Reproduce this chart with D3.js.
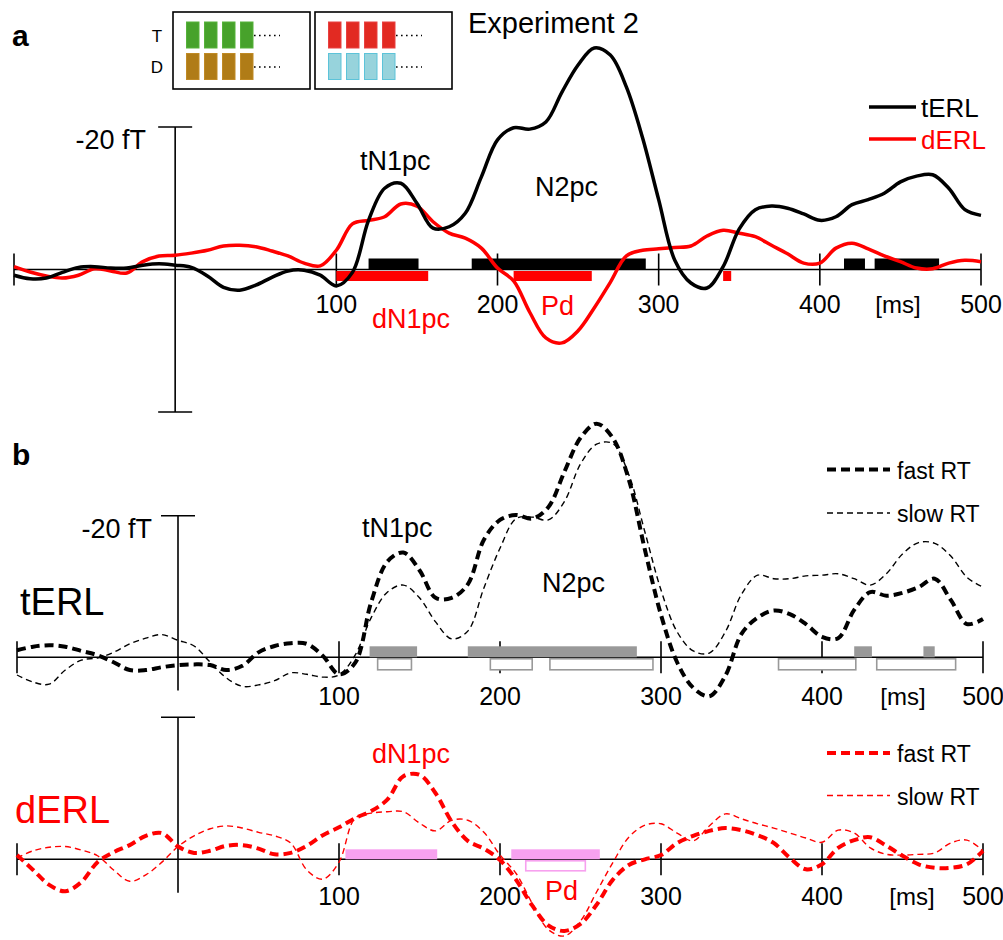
<!DOCTYPE html>
<html><head><meta charset="utf-8">
<script src="https://cdn.jsdelivr.net/npm/d3@7"></script>
<style>body{margin:0;background:#fff}svg{display:block}text{font-family:"Liberation Sans",Arial,sans-serif}</style>
</head><body>
<svg id="chart" width="1003" height="940"></svg>
<script>
// time axis (ms), sampled every 10 ms from -100 to 500
const times = d3.range(-100, 501, 10);
const xTickLabels = ["100", "200", "300", "400", "[ms]", "500"];
const xTickValues = [100, 200, 300, 400, 500];

// Panel a: grand averages (fT, negative = up)
const aTERL = [0.8,1.3,1.2,0.4,-0.3,-0.4,-0.2,-0.2,-0.6,-0.8,-0.6,-0.3,0.9,2.5,2.9,2.2,1.1,0.2,0.1,0.8,2.3,0.4,-6.9,-11.4,-12.1,-9.3,-5.8,-6.0,-7.9,-13.0,-18.2,-19.9,-19.7,-20.7,-24.9,-28.7,-31.1,-30.1,-25.6,-18.5,-9.8,-1.3,1.9,2.6,-0.4,-5.7,-8.4,-8.9,-8.6,-7.8,-6.9,-7.4,-9.1,-9.8,-10.7,-12.3,-13.1,-13.3,-11.4,-8.4,-7.6];
const aDERL = [-0.4,0.35,0.9,1.2,0.8,-0.1,0.2,0.5,-1.1,-1.9,-2.0,-2.3,-2.7,-3.3,-3.4,-3.2,-2.6,-1.9,-0.9,-0.5,-2.7,-6.4,-6.9,-7.4,-9.2,-8.9,-6.7,-5.1,-4.4,-3.0,-0.2,1.6,6.0,9.6,10.3,8.6,5.4,1.8,-1.9,-2.7,-2.9,-3.1,-3.3,-4.7,-5.5,-5.1,-4.6,-3.4,-2.2,-0.9,-0.9,-3.0,-3.7,-2.9,-1.9,-1.1,-0.2,-0.1,-0.9,-1.3,-1.1];

// Panel b: fast vs slow RT
const bTERLfast = [-1.0,-1.5,-1.7,-1.5,-0.9,-0.3,0.7,1.8,1.8,1.4,1.1,1.0,1.1,1.8,1.2,-0.7,-1.6,-2.0,-1.9,-0.2,2.4,0.8,-7.8,-13.5,-14.8,-12.3,-8.4,-8.4,-10.3,-16.6,-19.4,-20.1,-19.6,-21.2,-26.2,-31.0,-33.0,-31.0,-25.1,-15.2,-6.0,0.7,4.3,5.5,2.6,-3.3,-5.6,-6.6,-6.1,-4.7,-2.9,-2.7,-6.7,-9.2,-8.7,-9.1,-9.9,-11.1,-8.1,-4.7,-5.4];
const bTERLslow = [2.5,3.5,3.8,1.8,0.4,0.1,-0.7,-1.9,-2.7,-3.2,-2.4,-1.6,0.7,2.9,4.1,3.9,3.3,2.2,2.4,2.8,2.5,-0.3,-5.6,-9.2,-10.2,-8.4,-5.0,-2.6,-3.7,-9.8,-15.4,-19.6,-19.8,-19.4,-22.0,-27.3,-30.1,-30.2,-25.8,-17.7,-9.5,-3.6,-0.9,-0.6,-3.6,-8.9,-11.6,-11.1,-11.1,-11.5,-11.6,-11.8,-11.1,-10.2,-11.8,-14.6,-16.2,-16.1,-14.3,-11.3,-9.9];
const bDERLfast = [-0.6,1.5,3.6,4.5,3.2,0.4,-1.0,-2.0,-3.3,-3.7,-1.8,-0.9,-1.2,-1.9,-2.0,-1.5,-0.7,-0.9,-1.9,-3.4,-4.5,-5.8,-6.8,-8.4,-11.7,-11.9,-9.3,-5.3,-2.6,-1.5,0.1,2.9,6.5,9.3,10.1,9.1,6.4,2.9,0.8,0.0,-0.6,-2.3,-3.3,-4.0,-4.4,-4.1,-3.4,-2.3,-0.2,1.4,0.7,-1.6,-2.7,-3.1,-1.9,-0.5,0.7,1.2,1.2,0.7,-1.2];
const bDERLslow = [-0.2,-1.2,-1.7,-1.8,-1.3,-0.5,1.5,3.1,2.2,0.4,-1.8,-3.3,-4.3,-4.7,-4.4,-3.8,-3.3,-2.3,1.5,2.8,0.4,-5.8,-6.5,-6.7,-6.7,-5.1,-4.0,-5.5,-5.5,-3.8,-0.6,2.0,6.2,9.9,10.8,8.7,4.6,0.5,-3.1,-4.8,-5.0,-3.7,-2.6,-4.7,-6.4,-5.7,-5.0,-4.4,-3.7,-3.0,-2.4,-4.1,-3.7,-1.6,-0.7,-0.6,-0.7,-0.9,-2.3,-2.7,-1.2];

// significant intervals (ms)
const aSigT = [[120,151],[184,292],[415,428],[434,474]];
const aSigD = [[100,157],[210,258.5],[340,345]];
const bSigTfast = [[119,148.5],[180,285],[420,431],[463,470]];
const bSigTslow = [[124,145],[194,220],[231,295],[373,421],[434,483]];
const bSigDfast = [[104,161],[207,262]];
const bSigDslow = [[216,253]];

// inset stimulus legend
const insetRows = ["T", "D"];
const insetColors = [["#47a22b","#b07c17"],["#e22a22","#97d3dc"]];
const insetStrokes = [["#56b23a","#c08a25"],["#e84040","#5cc3d9"]];

const svg = d3.select("#chart");
const RED = "#ff0000";

function panel(opts){
  const x = d3.scaleLinear().domain([-100,500]).range(opts.xr);
  const y = d3.scaleLinear().domain([-20,20]).range(opts.yr);
  const g = svg.append("g");
  const y0 = y(0);
  g.append("line").attr("x1",x(-100)).attr("x2",x(500)).attr("y1",y0).attr("y2",y0)
    .attr("stroke","#000").attr("stroke-width",1.6);
  [-100].concat(xTickValues).forEach(t=>{
    g.append("line").attr("x1",x(t)).attr("x2",x(t)).attr("y1",y0-16).attr("y2",y0+16)
      .attr("stroke","#000").attr("stroke-width",1.6);
  });
  xTickValues.forEach((t,i)=>{
    g.append("text").attr("x",x(t)).attr("y",opts.tickY).attr("text-anchor","middle")
      .attr("font-size",25).text(xTickLabels[i===4?5:i]);
  });
  g.append("text").attr("x",opts.msX).attr("y",opts.tickY).attr("text-anchor","middle")
    .attr("font-size",24).text(xTickLabels[4]);
  g.append("line").attr("x1",x(0)).attr("x2",x(0)).attr("y1",y(-20)).attr("y2",y(opts.vBottom))
    .attr("stroke","#000").attr("stroke-width",1.6);
  g.append("line").attr("x1",x(0)-17).attr("x2",x(0)+17).attr("y1",y(-20)).attr("y2",y(-20))
    .attr("stroke","#000").attr("stroke-width",1.6);
  if(opts.bottomCap){
    g.append("line").attr("x1",x(0)-17).attr("x2",x(0)+17).attr("y1",y(opts.vBottom)).attr("y2",y(opts.vBottom))
      .attr("stroke","#000").attr("stroke-width",1.6);
  }
  if(opts.scaleLabel){
    g.append("text").attr("x",opts.scaleLabelX).attr("y",y(-20)+22).attr("text-anchor","end")
      .attr("font-size",27).text("-20 fT");
  }
  return {x,y,g,y0};
}

function drawLine(p, vals, color, width, dash){
  const line = d3.line().x((d,i)=>p.x(times[i])).y(d=>p.y(d)).curve(d3.curveCatmullRom.alpha(0.5));
  const path = p.g.append("path").datum(vals).attr("d",line).attr("fill","none")
    .attr("stroke",color).attr("stroke-width",width).attr("stroke-linejoin","round");
  if(dash) path.attr("stroke-dasharray",dash);
}
function bars(p, ivs, above, fill, stroke, h){
  ivs.forEach(([a,b])=>{
    p.g.append("rect").attr("x",p.x(a)).attr("width",p.x(b)-p.x(a))
      .attr("y", above ? p.y0 - h : p.y0 + 1.5).attr("height",h)
      .attr("fill",fill).attr("stroke",stroke||"none").attr("stroke-width",stroke?1.6:0);
  });
}

// ---------- Panel a ----------
const pa = panel({xr:[14,981], yr:[127,412], tickY:313, msX:898, vBottom:20, bottomCap:true, scaleLabel:true, scaleLabelX:146});
bars(pa, aSigT, true, "#000", null, 11);
bars(pa, aSigD, false, RED, null, 10);
drawLine(pa, aDERL, RED, 3.5);
drawLine(pa, aTERL, "#000", 3.5);

svg.append("text").attr("x",12).attr("y",46).attr("font-size",30).attr("font-weight","bold").text("a");
svg.append("text").attr("x",360).attr("y",170).attr("font-size",27).text("tN1pc");
svg.append("text").attr("x",535).attr("y",196).attr("font-size",27).text("N2pc");
svg.append("text").attr("x",372).attr("y",328).attr("font-size",27).attr("fill",RED).text("dN1pc");
svg.append("text").attr("x",541).attr("y",315).attr("font-size",27).attr("fill",RED).text("Pd");
svg.append("text").attr("x",468).attr("y",33).attr("font-size",29).text("Experiment 2");
[["tERL","#000",107],["dERL",RED,139]].forEach(([s,c,yy])=>{
  svg.append("line").attr("x1",869).attr("x2",916).attr("y1",yy).attr("y2",yy).attr("stroke",c).attr("stroke-width",3.5);
  svg.append("text").attr("x",921).attr("y",yy+10).attr("font-size",26).attr("fill",c).text(s);
});
[[173,0],[315,1]].forEach(([bx,k])=>{
  svg.append("rect").attr("x",bx).attr("y",12).attr("width",137).attr("height",77)
    .attr("fill","none").attr("stroke","#000").attr("stroke-width",1.6);
  insetRows.forEach((r,ri)=>{
    const yy = ri===0 ? 22 : 53.5;
    for(let j=0;j<4;j++){
      svg.append("rect").attr("x",bx+13.5+j*18).attr("y",yy).attr("width",12.5).attr("height",26)
        .attr("fill",insetColors[k][ri]).attr("stroke",insetStrokes[k][ri]).attr("stroke-width",1);
    }
    svg.append("line").attr("x1",bx+81).attr("x2",bx+107).attr("y1",yy+13.5).attr("y2",yy+13.5)
      .attr("stroke","#000").attr("stroke-width",1.6).attr("stroke-dasharray","1.6,3.4");
  });
});
svg.append("text").attr("x",157).attr("y",42).attr("text-anchor","middle").attr("font-size",17).text(insetRows[0]);
svg.append("text").attr("x",157).attr("y",73).attr("text-anchor","middle").attr("font-size",17).text(insetRows[1]);

// ---------- Panel b, tERL ----------
const pb = panel({xr:[17,983], yr:[515.7,798.9], tickY:705, msX:903, vBottom:4.7, bottomCap:false, scaleLabel:true, scaleLabelX:152});
bars(pb, bSigTfast, true, "#999", null, 11);
bars(pb, bSigTslow, false, "#fff", "#999", 11);
drawLine(pb, bTERLslow, "#000", 1.4, "6,4");
drawLine(pb, bTERLfast, "#000", 4, "9,5");
svg.append("text").attr("x",12).attr("y",465).attr("font-size",30).attr("font-weight","bold").text("b");
svg.append("text").attr("x",20).attr("y",615).attr("font-size",38).text("tERL");
svg.append("text").attr("x",362).attr("y",537).attr("font-size",27).text("tN1pc");
svg.append("text").attr("x",542).attr("y",592).attr("font-size",27).text("N2pc");
[["fast RT",469.6,4,"9,5"],["slow RT",513,1.4,"6,4"]].forEach(([s,yy,w,d])=>{
  svg.append("line").attr("x1",827).attr("x2",890).attr("y1",yy).attr("y2",yy).attr("stroke","#000").attr("stroke-width",w).attr("stroke-dasharray",d);
  svg.append("text").attr("x",897).attr("y",yy+9).attr("font-size",23).text(s);
});

// ---------- Panel b, dERL ----------
const pc = panel({xr:[17,983], yr:[717.3,1001.3], tickY:905, msX:912, vBottom:4.7, bottomCap:false, scaleLabel:false});
bars(pc, bSigDfast, true, "#f7a1ef", null, 10);
bars(pc, bSigDslow, false, "#fff", "#f7a1ef", 10);
drawLine(pc, bDERLslow, RED, 1.4, "6,4");
drawLine(pc, bDERLfast, RED, 4, "9,5");
svg.append("text").attr("x",15).attr("y",823).attr("font-size",38).attr("fill",RED).text("dERL");
svg.append("text").attr("x",372).attr("y",763).attr("font-size",27).attr("fill",RED).text("dN1pc");
svg.append("text").attr("x",545).attr("y",900).attr("font-size",27).attr("fill",RED).text("Pd");
[["fast RT",753,4,"9,5"],["slow RT",795.5,1.4,"6,4"]].forEach(([s,yy,w,d])=>{
  svg.append("line").attr("x1",827).attr("x2",890).attr("y1",yy).attr("y2",yy).attr("stroke",RED).attr("stroke-width",w).attr("stroke-dasharray",d);
  svg.append("text").attr("x",897).attr("y",yy+9).attr("font-size",23).text(s);
});
</script>
</body></html>
